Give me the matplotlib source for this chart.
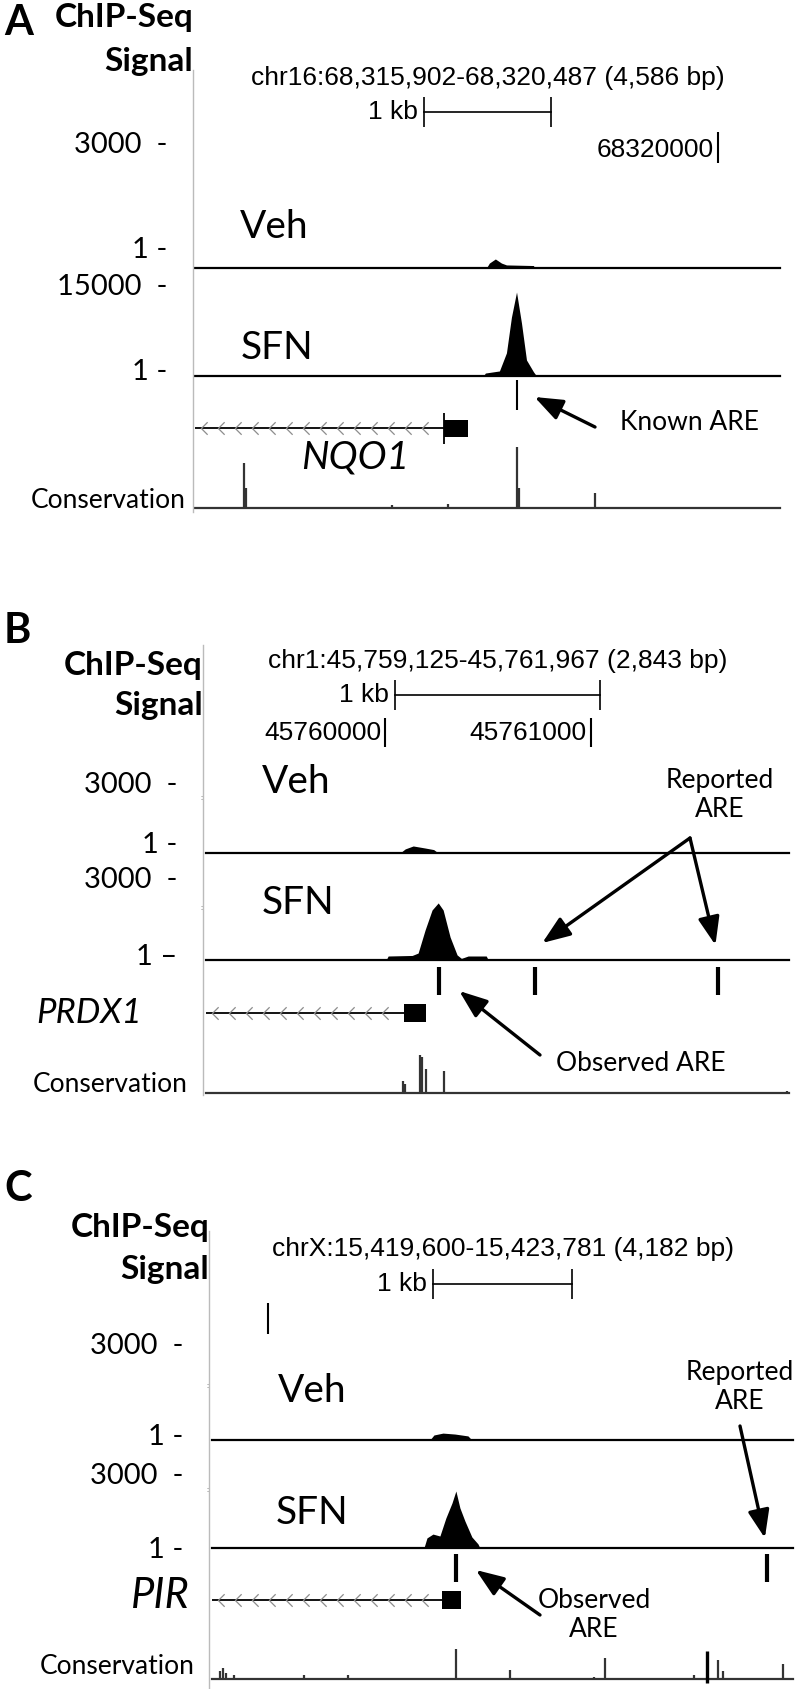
import numpy as np
import matplotlib
matplotlib.use('Agg')
import matplotlib.pyplot as plt
from matplotlib.patches import Rectangle

plt.rcParams['font.family'] = ['Lato', 'DejaVu Sans']
UCSC_FONT = ['Liberation Sans', 'DejaVu Sans']

W, H = 800, 1689

# ---------------- data read off the browser shots ----------------
# panel A : NQO1
a_chrom = 'chr16'
a_start, a_end = 68315902, 68320487
a_veh_pos = [68318186, 68318209, 68318256, 68318304, 68318343, 68318555, 68318563]
a_veh_val = [0, 120, 220, 120, 75, 60, 0]
a_sfn_pos = [68318162, 68318178, 68318288, 68318343, 68318382, 68318422,
             68318461, 68318500, 68318555, 68318579]
a_sfn_val = [0, 500, 850, 3900, 9900, 14150, 8900, 2700, 700, 0]
a_are = [68318422]
a_tss = (68317855, 68318044)
a_cons_pos = [68316288, 68316304, 68317445, 68317886, 68318422, 68318438, 68319036]
a_cons_val = [0.69, 0.31, 0.05, 0.06, 0.94, 0.31, 0.23]
a_pos_ticks = [68320000]
a_pos_labels = ['68320000']

# panel B : PRDX1
b_chrom = 'chr1'
b_start, b_end = 45759125, 45761967
b_veh_pos = [45760071, 45760096, 45760135, 45760193, 45760235, 45760257]
b_veh_val = [0, 180, 310, 220, 150, 0]
b_sfn_pos = [45760003, 45760013, 45760130, 45760159, 45760193, 45760227, 45760257,
             45760281, 45760315, 45760349, 45760370, 45760403, 45760491, 45760501]
b_sfn_val = [0, 150, 170, 260, 1125, 1875, 2140, 1875, 860, 190, 60, 150, 150, 0]
b_are = [45760262, 45760730, 45761623]
b_tss = (45760091, 45760198)
b_cons_pos = [45760086, 45760096, 45760169, 45760179, 45760198, 45760286, 45761959]
b_cons_val = [0.18, 0.14, 0.58, 0.55, 0.37, 0.34, 0.03]
b_pos_ticks = [45760000, 45761000]
b_pos_labels = ['45760000', '45761000']

# panel C : PIR
c_chrom = 'chrX'
c_start, c_end = 15419600, 15423781
c_veh_pos = [15421168, 15421197, 15421262, 15421348, 15421442, 15421470]
c_veh_val = [0, 160, 220, 190, 130, 0]
c_sfn_pos = [15421125, 15421147, 15421190, 15421240, 15421283, 15421327, 15421355,
             15421384, 15421420, 15421470, 15421514, 15421528]
c_sfn_val = [0, 420, 580, 500, 1250, 1875, 2375, 1670, 1125, 460, 170, 0]
c_are = [15421355, 15423593]
c_tss = (15421255, 15421391)
c_cons_pos = [15419658, 15419679, 15419701, 15419758, 15420262, 15420578, 15421355,
              15421744, 15422348, 15422427, 15423068, 15423240, 15423276, 15423708]
c_cons_val = [0.12, 0.17, 0.09, 0.06, 0.06, 0.06, 0.46, 0.14, 0.03, 0.32, 0.06,
              0.29, 0.12, 0.23]
c_cons_mark = [15423161]
c_pos_ticks = [15420000]
c_pos_labels = ['']

# ---------------- layout (pixels, from top) ----------------
fig = plt.figure(figsize=(W / 100, H / 100), dpi=100)


def box(l, t, r, b):
    return [l / W, 1 - b / H, (r - l) / W, (b - t) / H]


def ftext(x, y, s, **kw):
    fig.text(x / W, 1 - y / H, s, **kw)


def track(l, t, r, b, x0, x1, ymax):
    ax = fig.add_axes(box(l, t, r, b))
    ax.set_xlim(x0, x1)
    ax.set_ylim(0, ymax)
    ax.axis('off')
    return ax


chev = [(0.5, 1.0), (-0.5, 0.0), (0.5, -1.0)]

panels = [
    dict(letter='A', letter_y=23, chip_y=18, sig_y=62, vx=193, vtop=70, vbot=512,
         xl=195, xr=780, chr_y=78, bar_y=112, tick_y=(132, 163), tick_lab_y=150,
         veh_top=145, veh_base=268, sfn_top=287, sfn_base=376, sfn_max=15000,
         ylabs=[('3000  -', 145), ('1 -', 250), ('15000  -', 287), ('1 -', 372)],
         veh_txt=(240, 227), sfn_txt=(241, 348),
         are_y=(380, 410), are_lw=1.5, gene_y=428, box_y=(420, 437), tss_tick=(413, 444),
         gene='NQO1', gene_txt=(355, 457, 'center'), gene_fs=28,
         cons_top=443, cons_base=508, cons_lab=(186, 500), dots=[],
         chrom=a_chrom, start=a_start, end=a_end, veh=(a_veh_pos, a_veh_val),
         sfn=(a_sfn_pos, a_sfn_val), are=a_are, tss=a_tss,
         cons=(a_cons_pos, a_cons_val), ticks=(a_pos_ticks, a_pos_labels)),
    dict(letter='B', letter_y=631, chip_y=665, sig_y=706, vx=203, vtop=645, vbot=1095,
         xl=206, xr=789, chr_y=661, bar_y=695, tick_y=(718, 747), tick_lab_y=733,
         veh_top=785, veh_base=853, sfn_top=880, sfn_base=960, sfn_max=3000,
         ylabs=[('3000  -', 785), ('1 -', 845), ('3000  -', 880), ('1 \u2013', 957)],
         veh_txt=(262, 782), sfn_txt=(262, 903),
         are_y=(967, 995), are_lw=3, gene_y=1013, box_y=(1004, 1022), tss_tick=None,
         gene='PRDX1', gene_txt=(36, 1013, 'left'), gene_fs=25,
         cons_top=1028, cons_base=1093, cons_lab=(188, 1084), dots=[797, 907],
         chrom=b_chrom, start=b_start, end=b_end, veh=(b_veh_pos, b_veh_val),
         sfn=(b_sfn_pos, b_sfn_val), are=b_are, tss=b_tss,
         cons=(b_cons_pos, b_cons_val), ticks=(b_pos_ticks, b_pos_labels)),
    dict(letter='C', letter_y=1189, chip_y=1228, sig_y=1270, vx=209, vtop=1231, vbot=1689,
         xl=212, xr=793, chr_y=1249, bar_y=1284, tick_y=(1303, 1334), tick_lab_y=1318,
         veh_top=1346, veh_base=1440, sfn_top=1476, sfn_base=1548, sfn_max=3000,
         ylabs=[('3000  -', 1346), ('1 -', 1437), ('3000  -', 1476), ('1 -', 1550)],
         veh_txt=(278, 1391), sfn_txt=(276, 1513),
         are_y=(1554, 1582), are_lw=3, gene_y=1600, box_y=(1591, 1609), tss_tick=None,
         gene='PIR', gene_txt=(190, 1596, 'right'), gene_fs=30,
         cons_top=1614, cons_base=1679, cons_lab=(195, 1666), dots=[1385, 1490],
         chrom=c_chrom, start=c_start, end=c_end, veh=(c_veh_pos, c_veh_val),
         sfn=(c_sfn_pos, c_sfn_val), are=c_are, tss=c_tss,
         cons=(c_cons_pos, c_cons_val), ticks=(c_pos_ticks, c_pos_labels)),
]

axes_over = []
for p in panels:
    s, e, xl, xr = p['start'], p['end'], p['xl'], p['xr']
    bpp = (e - s) / (xr - xl)  # bp per pixel

    # left side labels
    ftext(4, p['letter_y'], p['letter'], fontsize=30, fontweight='bold', va='center')
    ftext(p['vx'], p['chip_y'], 'ChIP-Seq', fontsize=24, fontweight='bold', ha='right', va='center')
    ftext(p['vx'], p['sig_y'], 'Signal', fontsize=24, fontweight='bold', ha='right', va='center')
    for lab, yy in p['ylabs']:
        ftext(p['vx'] - 26, yy, lab, fontsize=21, ha='right', va='center')
    ftext(p['cons_lab'][0], p['cons_lab'][1], 'Conservation', fontsize=19, ha='right', va='center')
    for dy in p['dots']:
        ftext(p['vx'] - 3, dy, ':', fontsize=6, color='#777777', va='center')
    fig.add_artist(plt.Line2D([p['vx'] / W] * 2, [1 - p['vtop'] / H, 1 - p['vbot'] / H],
                              color='#bbbbbb', lw=1.0))

    # signal tracks
    veh = track(xl, p['veh_top'], xr, p['veh_base'], s, e, 3000)
    veh.fill_between(p['veh'][0], p['veh'][1], color='black', lw=0)
    veh.axhline(0, color='black', lw=1.6, clip_on=False)
    sfn = track(xl, p['sfn_top'], xr, p['sfn_base'], s, e, p['sfn_max'])
    sfn.fill_between(p['sfn'][0], p['sfn'][1], color='black', lw=0)
    sfn.axhline(0, color='black', lw=1.6, clip_on=False)

    # conservation
    cons = track(xl, p['cons_top'], xr, p['cons_base'], s, e, 1.0)
    cons.vlines(p['cons'][0], 0, p['cons'][1], color='#333333', lw=1.6)
    cons.axhline(0, color='#333333', lw=1.6, clip_on=False)

    # overlay: x in bp, y in pixel rows
    ov = fig.add_axes(box(xl, p['vtop'] - 70, xr, p['vbot']))
    ov.set_xlim(s, e)
    ov.set_ylim(p['vbot'], p['vtop'] - 70)
    ov.axis('off')
    axes_over.append(ov)

    ov.text((s + e) / 2, p['chr_y'], f"{p['chrom']}:{s:,}-{e:,} ({e - s + 1:,} bp)",
            family=UCSC_FONT, fontsize=19, ha='center', va='center')
    c = (s + e) / 2
    ov.plot([c - 500, c + 500], [p['bar_y']] * 2, color='black', lw=1.2)
    ov.vlines([c - 500, c + 500], p['bar_y'] - 15, p['bar_y'] + 15, color='black', lw=1.2)
    ov.text(c - 500 - 6 * bpp, p['bar_y'], '1 kb', family=UCSC_FONT, fontsize=19,
            ha='right', va='center')
    ov.vlines(p['ticks'][0], p['tick_y'][0], p['tick_y'][1], color='black', lw=1.5)
    for t, lab in zip(*p['ticks']):
        ov.text(t - 4 * bpp, p['tick_lab_y'], lab, family=UCSC_FONT, fontsize=19,
                ha='right', va='center')

    ov.text(s + (p['veh_txt'][0] - xl) * bpp, p['veh_txt'][1], 'Veh', fontsize=28, va='center')
    ov.text(s + (p['sfn_txt'][0] - xl) * bpp, p['sfn_txt'][1], 'SFN', fontsize=28, va='center')

    # ARE marks
    ov.vlines(p['are'], p['are_y'][0], p['are_y'][1], color='black', lw=p['are_lw'])

    # gene model
    t0, t1 = p['tss']
    ov.plot([s, t0], [p['gene_y']] * 2, color='black', lw=1.3)
    xs = np.arange(s + 9 * bpp, t0 - 12 * bpp, 17 * bpp)
    ov.plot(xs, [p['gene_y']] * len(xs), ls='none', marker=chev, ms=9, mfc='none',
            mec='#8c8c8c', mew=0.9)
    ov.add_patch(Rectangle((t0, p['box_y'][0]), t1 - t0, p['box_y'][1] - p['box_y'][0],
                           color='black', lw=0))
    if p['tss_tick']:
        ov.vlines([t0], p['tss_tick'][0], p['tss_tick'][1], color='black', lw=1.3)
    gx, gy, gha = p['gene_txt']
    ftext(gx, gy, p['gene'], fontsize=p['gene_fs'], style='italic', ha=gha, va='center')


def arrow(ov, tail, tip):
    ov.annotate('', xy=tip, xytext=tail,
                arrowprops=dict(arrowstyle='-|>,head_length=1.7,head_width=0.65',
                                lw=2.4, color='black', shrinkA=0, shrinkB=0))


def bp(p, x):
    return p['start'] + (x - p['xl']) * (p['end'] - p['start']) / (p['xr'] - p['xl'])


# panel A annotations
pa, ova = panels[0], axes_over[0]
bpa = (pa['end'] - pa['start']) / (pa['xr'] - pa['xl'])
arrow(ova, (bp(pa, 595), 427), (a_are[0] + 18 * bpa, 397))
ova.text(bp(pa, 620), 423, 'Known ARE', fontsize=19, va='center')

# panel B annotations
pb, ovb = panels[1], axes_over[1]
bpb = (pb['end'] - pb['start']) / (pb['xr'] - pb['xl'])
ovb.text(bp(pb, 720), 795, 'Reported\nARE', fontsize=19, ha='center', va='center',
         linespacing=1.2)
arrow(ovb, (bp(pb, 690), 838), (b_are[1] + 7 * bpb, 943))
arrow(ovb, (bp(pb, 690), 838), (b_are[2] - 3 * bpb, 945))
arrow(ovb, (bp(pb, 540), 1055), (b_are[0] + 20 * bpb, 991))
ovb.text(bp(pb, 556), 1063, 'Observed ARE', fontsize=19, va='center')

# panel C annotations
pc, ovc = panels[2], axes_over[2]
bpc = (pc['end'] - pc['start']) / (pc['xr'] - pc['xl'])
ovc.text(bp(pc, 740), 1387, 'Reported\nARE', fontsize=19, ha='center', va='center',
         linespacing=1.2)
arrow(ovc, (bp(pc, 740), 1426), (c_are[1] - 2 * bpc, 1538))
arrow(ovc, (bp(pc, 540), 1615), (c_are[0] + 20 * bpc, 1570))
ovc.text(bp(pc, 594), 1615, 'Observed\nARE', fontsize=19, ha='center', va='center',
         linespacing=1.2)
ovc.vlines(c_cons_mark, 1651, 1683, color='black', lw=2.4)

fig.savefig('out.png', dpi=100, facecolor='white')
